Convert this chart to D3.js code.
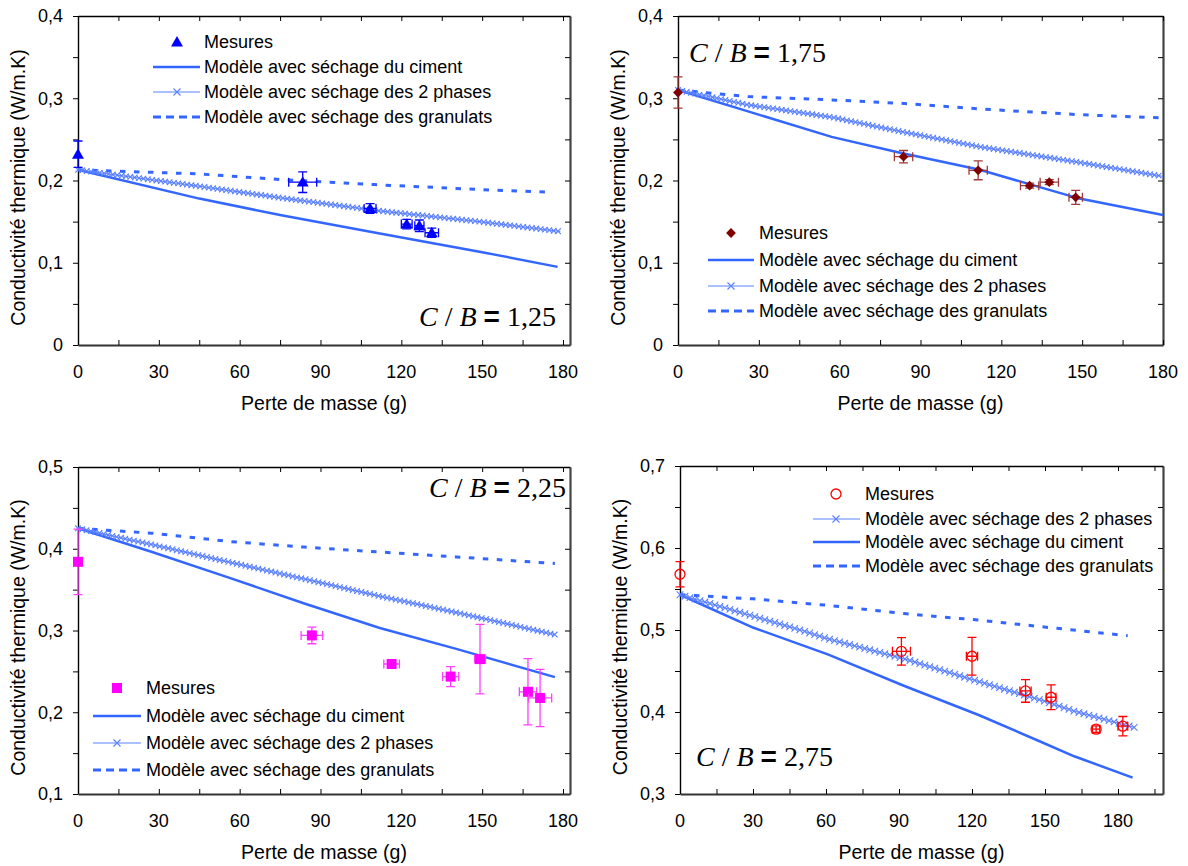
<!DOCTYPE html>
<html><head><meta charset="utf-8">
<script src="https://cdn.jsdelivr.net/npm/d3@7"></script>
<style>
body{margin:0;background:#fff}
text{font-family:Arial,"Liberation Sans",sans-serif;fill:#000}
</style>
</head><body>
<svg id="c" width="1188" height="866"></svg>
<script>
// ================= DATA =================
const xTickValues = [0, 30, 60, 90, 120, 150, 180];
const xTickLabels = ["0", "30", "60", "90", "120", "150", "180"];
const xMinorA = [15, 45, 75, 105, 135, 165];
const xMinorB = [15, 45, 75, 105, 135, 165, 195];

const p1YTicks = [0, 0.1, 0.2, 0.3, 0.4];
const p1YLabels = ["0", "0,1", "0,2", "0,3", "0,4"];
const p1YMinor = [0.05, 0.15, 0.25, 0.35];
const p2YTicks = [0, 0.1, 0.2, 0.3, 0.4];
const p2YLabels = ["0", "0,1", "0,2", "0,3", "0,4"];
const p2YMinor = [0.05, 0.15, 0.25, 0.35];
const p3YTicks = [0.1, 0.2, 0.3, 0.4, 0.5];
const p3YLabels = ["0,1", "0,2", "0,3", "0,4", "0,5"];
const p3YMinor = [0.15, 0.25, 0.35, 0.45];
const p4YTicks = [0.3, 0.4, 0.5, 0.6, 0.7];
const p4YLabels = ["0,3", "0,4", "0,5", "0,6", "0,7"];
const p4YMinor = [0.35, 0.45, 0.55, 0.65];

const nameMes = "Mesures";
const nameCiment = "Modèle avec séchage du ciment";
const name2ph = "Modèle avec séchage des 2 phases";
const nameGran = "Modèle avec séchage des granulats";
const xTitle = "Perte de masse (g)";
const yTitle = "Conductivité thermique (W/m.K)";

// C/B values
const cbValues = ["1,25", "1,75", "2,25", "2,75"];

// Panel 1 : C/B = 1,25   [perte de masse (g), conductivité]
const p1Ciment = [[0,0.213],[45,0.178],[75,0.158],[112,0.1355],[149,0.1135],[178,0.095]];
const p12ph    = [[0,0.213],[45,0.193],[75,0.179],[112,0.163],[149,0.150],[179,0.138]];
const p1Gran   = [[0,0.213],[45,0.208],[78,0.2005],[110,0.195],[149,0.189],[176,0.1856]];
// measures: [g, value, error g, error value]
const p1Mes = [[0,0.232,0,0.016],[83.4,0.198,5.2,0.0126],[108.4,0.166,2.2,0.006],[122,0.147,2,0.0057],[126.7,0.145,1.7,0.007],[131.3,0.1365,2.5,0.0057]];

// Panel 2 : C/B = 1,75
const p2Ciment = [[0,0.310],[26,0.284],[57,0.253],[82,0.234],[112,0.213],[149,0.178],[180,0.158]];
const p22ph    = [[0,0.310],[26,0.292],[57,0.277],[82,0.260],[112,0.241],[149,0.222],[180,0.205]];
const p2Gran   = [[0,0.310],[26,0.302],[57,0.298],[82,0.294],[112,0.287],[149,0.280],[180,0.276]];
const p2Mes = [[0,0.307,0,0.019],[83.7,0.229,3.4,0.0075],[111.4,0.2124,3.4,0.0115],[130.5,0.1937,3.4,0.003],[137.8,0.198,3.4,0.003],[147.6,0.1795,2.5,0.0085]];

// Panel 3 : C/B = 2,25
const p3Ciment = [[0,0.425],[27.5,0.396],[55.7,0.365],[84,0.333],[112,0.303],[140.4,0.2775],[177,0.243]];
const p32ph    = [[0,0.425],[27.5,0.405],[55.7,0.384],[84,0.363],[112,0.342],[140.4,0.322],[177,0.295]];
const p3Gran   = [[0,0.425],[27.5,0.419],[55.7,0.409],[84,0.402],[112,0.396],[140.4,0.390],[177,0.382]];
const p3Mes = [[0,0.384,0,0.04],[86.8,0.294,4,0.0102],[116.4,0.259,2.9,0.004],[138.3,0.2436,3,0.0123],[149.2,0.265,2,0.0425],[167,0.225,3.2,0.0405],[171.5,0.2175,4.3,0.035]];

// Panel 4 : C/B = 2,75
const p4Ciment = [[0,0.543],[30,0.503],[61,0.470],[92,0.432],[123,0.396],[148,0.364],[162,0.346],[186,0.320]];
const p42ph    = [[0,0.543],[50,0.4995],[61,0.489],[92,0.465],[123,0.437],[150,0.413],[162,0.401],[187,0.381]];
const p4Gran   = [[0,0.543],[30,0.538],[61,0.530],[92,0.520],[123,0.512],[155,0.502],[184,0.493]];
const p4Mes = [[0,0.568,0,0.0154],[91,0.474,3.7,0.0168],[120,0.468,2.3,0.023],[142,0.4257,2.3,0.0138],[152.5,0.418,2,0.015],[171,0.379,1.5,0.004],[182,0.3827,2,0.0118]];

// ================= LAYOUT / STYLE =================
const BLUE = "#3366ff", BLUE2 = "#5a80ff";
const FS = 18, FST = 19.5;
const panels = [
  {l:78, r:570, t:16, b:345, xMax:182.6, yDom:[0,0.4], yTicks:p1YTicks, yLabels:p1YLabels, yMinor:p1YMinor, xMinor:xMinorA,
   ciment:p1Ciment, ph2:p12ph, gran:p1Gran, mes:p1Mes, mk:"triangle", mcol:"#0000ff", ecol:"#0000ff",
   leg:{x0:153, x1:200, tx:204, mx:177, rows:[42,67,92,117], order:["mes","ciment","ph2","gran"]},
   cb:{x:419, y:326, v:cbValues[0]}, mkStep:4.4, mkSize:2.8},
  {l:678, r:1163, t:16, b:345, xMax:180, yDom:[0,0.4], yTicks:p2YTicks, yLabels:p2YLabels, yMinor:p2YMinor, xMinor:xMinorA,
   ciment:p2Ciment, ph2:p22ph, gran:p2Gran, mes:p2Mes, mk:"diamond", mcol:"#800000", ecol:"#a03a3a",
   leg:{x0:708, x1:754, tx:759, mx:731, rows:[233,260,286,311], order:["mes","ciment","ph2","gran"]},
   cb:{x:689, y:62, v:cbValues[1]}, mkStep:4.4, mkSize:2.8},
  {l:78, r:570, t:467, b:794, xMax:182.6, yDom:[0.1,0.5], yTicks:p3YTicks, yLabels:p3YLabels, yMinor:p3YMinor, xMinor:xMinorA,
   ciment:p3Ciment, ph2:p32ph, gran:p3Gran, mes:p3Mes, mk:"square", mcol:"#ff00ff", ecol:"#ff40ff",
   leg:{x0:93, x1:141, tx:146, mx:117, rows:[688,716,743,770], order:["mes","ciment","ph2","gran"]},
   cb:{x:429, y:497, v:cbValues[2]}, mkStep:4.4, mkSize:2.8},
  {l:680, r:1163, t:466, b:794, xMax:198.5, yDom:[0.3,0.7], yTicks:p4YTicks, yLabels:p4YLabels, yMinor:p4YMinor, xMinor:xMinorB,
   ciment:p4Ciment, ph2:p42ph, gran:p4Gran, mes:p4Mes, mk:"circle", mcol:"#ff0000", ecol:"#ff0000",
   leg:{x0:813, x1:860, tx:865, mx:836, rows:[494,519,542,566], order:["mes","ph2","ciment","gran"]},
   cb:{x:696, y:766, v:cbValues[3]}, mkStep:5.2, mkSize:3.3}
];

const svg = d3.select("#c");

function drawMarker(g, type, cx, cy, col) {
  if (type === "triangle") {
    g.append("path").attr("d", d3.symbol(d3.symbolTriangle, 62)()).attr("transform", `translate(${cx},${cy+1})`).attr("fill", col);
  } else if (type === "diamond") {
    g.append("path").attr("d", d3.symbol(d3.symbolSquare, 48)()).attr("transform", `translate(${cx},${cy}) rotate(45)`).attr("fill", col);
  } else if (type === "square") {
    g.append("path").attr("d", d3.symbol(d3.symbolSquare, 100)()).attr("transform", `translate(${cx},${cy})`).attr("fill", col);
  } else {
    g.append("circle").attr("cx", cx).attr("cy", cy).attr("r", 5).attr("fill", "none").attr("stroke", col).attr("stroke-width", 1.3);
  }
}
function drawX(g, cx, cy, s, col) {
  g.append("path").attr("d", `M${cx-s},${cy-s}L${cx+s},${cy+s}M${cx-s},${cy+s}L${cx+s},${cy-s}`)
    .attr("stroke", col).attr("stroke-width", 1.1).attr("fill", "none");
}

panels.forEach(P => {
  const x = d3.scaleLinear().domain([0, P.xMax]).range([P.l, P.r]);
  const y = d3.scaleLinear().domain(P.yDom).range([P.b, P.t]);
  const g = svg.append("g");
  const allY = P.yTicks.concat(P.yMinor);
  const allX = xTickValues.concat(P.xMinor);

  const ax = (sel, col, w) => { sel.selectAll("line").attr("stroke", "#000").attr("stroke-width", 1);
                                sel.select(".domain").attr("stroke", col).attr("stroke-width", w); };
  g.append("g").attr("transform", `translate(${P.l},0)`)
    .call(d3.axisLeft(y).tickValues(allY).tickSize(5).tickSizeOuter(0).tickFormat(""))
    .call(s => ax(s, "#000", 1.4));
  g.append("g").attr("transform", `translate(${P.r},0)`)
    .call(d3.axisRight(y).tickValues(allY).tickSize(-5).tickSizeOuter(0).tickFormat(""))
    .call(s => ax(s, "#444", 2.2));
  g.append("g").attr("transform", `translate(0,${P.t})`)
    .call(d3.axisTop(x).tickValues(allX).tickSize(-5).tickSizeOuter(0).tickFormat(""))
    .call(s => ax(s, "#000", 1.4));
  g.append("g").attr("transform", `translate(0,${P.b})`)
    .call(d3.axisBottom(x).tickValues(allX).tickSize(-5).tickSizeOuter(0).tickFormat(""))
    .call(s => ax(s, "#333", 2.2));

  P.yTicks.forEach((v, i) => g.append("text").attr("x", P.l - 15).attr("y", y(v)).attr("dy", "0.35em")
    .attr("text-anchor", "end").attr("font-size", FS).text(P.yLabels[i]));
  xTickValues.forEach((v, i) => g.append("text").attr("x", x(v)).attr("y", P.b + 27).attr("dy", "0.35em")
    .attr("text-anchor", "middle").attr("font-size", FS).text(xTickLabels[i]));
  g.append("text").attr("x", (P.l + P.r) / 2).attr("y", P.b + 58).attr("dy", "0.35em")
    .attr("text-anchor", "middle").attr("font-size", FST).text(xTitle);
  g.append("text").attr("transform", `translate(${P.l - 60},${(P.t + P.b) / 2 + 7}) rotate(-90)`).attr("dy", "0.35em")
    .attr("text-anchor", "middle").attr("font-size", FST).text(yTitle);

  const line = d3.line().x(d => x(d[0])).y(d => y(d[1]));
  g.append("path").datum(P.gran).attr("d", line).attr("fill", "none").attr("stroke", BLUE)
    .attr("stroke-width", 3).attr("stroke-dasharray", "5.5,8.5");
  g.append("path").datum(P.ciment).attr("d", line).attr("fill", "none").attr("stroke", BLUE).attr("stroke-width", 2.5);
  const p2 = g.append("path").datum(P.ph2).attr("d", line).attr("fill", "none").attr("stroke", BLUE2).attr("stroke-width", 1);
  const node = p2.node(), L = node.getTotalLength();
  for (let s = 0; s <= L + 0.01; s += P.mkStep) { const pt = node.getPointAtLength(s); drawX(g, pt.x, pt.y, P.mkSize, BLUE2); }

  P.mes.forEach(([gx, v, dx, dv]) => {
    const cx = x(gx), cy = y(v), cap = 4.5;
    const eb = g.append("g").attr("stroke", P.ecol).attr("stroke-width", 1.3).attr("fill", "none");
    if (dv > 0) {
      const y0 = y(v - dv), y1 = y(v + dv);
      eb.append("path").attr("d", `M${cx},${y0}V${y1}M${cx-cap},${y0}H${cx+cap}M${cx-cap},${y1}H${cx+cap}`);
    }
    if (dx > 0) {
      const x0 = x(gx - dx), x1 = x(gx + dx);
      eb.append("path").attr("d", `M${x0},${cy}H${x1}M${x0},${cy-cap}V${cy+cap}M${x1},${cy-cap}V${cy+cap}`);
    }
    drawMarker(g, P.mk, cx, cy, P.mcol);
  });

  const Lg = P.leg;
  Lg.order.forEach((k, i) => {
    const ry = Lg.rows[i];
    let label;
    if (k === "mes") { drawMarker(g, P.mk, Lg.mx, ry, P.mcol); label = nameMes; }
    else if (k === "ciment") { g.append("line").attr("x1", Lg.x0).attr("x2", Lg.x1).attr("y1", ry).attr("y2", ry).attr("stroke", BLUE).attr("stroke-width", 2.5); label = nameCiment; }
    else if (k === "ph2") { g.append("line").attr("x1", Lg.x0).attr("x2", Lg.x1).attr("y1", ry).attr("y2", ry).attr("stroke", BLUE2).attr("stroke-width", 1); drawX(g, Lg.mx, ry, 3.5, BLUE2); label = name2ph; }
    else { g.append("line").attr("x1", Lg.x0).attr("x2", Lg.x1).attr("y1", ry).attr("y2", ry).attr("stroke", BLUE).attr("stroke-width", 3).attr("stroke-dasharray", "8,5"); label = nameGran; }
    g.append("text").attr("x", Lg.tx).attr("y", ry).attr("dy", "0.35em").attr("font-size", FS).text(label);
  });

  const t = g.append("text").attr("x", P.cb.x).attr("y", P.cb.y).attr("font-size", 28)
    .style("font-family", "'Liberation Serif','Times New Roman',serif");
  t.append("tspan").attr("font-style", "italic").text("C");
  t.append("tspan").text(" / ");
  t.append("tspan").attr("font-style", "italic").text("B");
  t.append("tspan").text(" ");
  t.append("tspan").attr("font-weight", "bold").style("font-family", "Arial,'Liberation Sans',sans-serif").text("=");
  t.append("tspan").text(" " + P.cb.v);
});
</script>
</body></html>
